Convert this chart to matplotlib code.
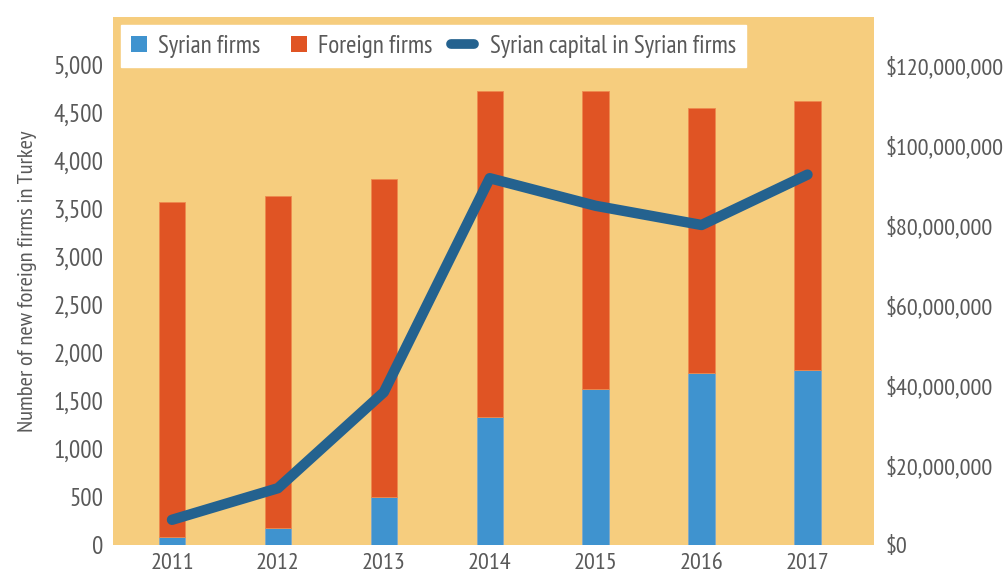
import matplotlib
matplotlib.use("Agg")
import matplotlib.pyplot as plt
from matplotlib.ticker import FuncFormatter
from matplotlib.lines import Line2D
from matplotlib.patches import Patch
from matplotlib.legend_handler import HandlerBase

plt.rcParams['font.family'] = ['PT Sans Narrow', 'DejaVu Sans']

years = ['2011', '2012', '2013', '2014', '2015', '2016', '2017']
syrian_firms = [85, 180, 505, 1337, 1628, 1790, 1820]
total_firms = [3570, 3640, 3810, 4730, 4730, 4555, 4625]
foreign_firms = [t - s for t, s in zip(total_firms, syrian_firms)]
syrian_capital = [6.3e6, 14.2e6, 38.2e6, 91.7e6, 84.8e6, 80.0e6, 92.6e6]

bg = '#F6CD7E'
blue = '#3F93CF'
red = '#E05424'
navy = '#24628F'
grey = '#595959'


class WideLineHandler(HandlerBase):
    # legend line that reaches out to the left of its (square sized) handle box
    def create_artists(self, legend, orig_handle, xdescent, ydescent, width, height, fontsize, trans):
        y = height / 2 - ydescent
        line = Line2D([-8.5 - xdescent, width - 3.5 - xdescent], [y, y], color=orig_handle.get_color(),
                      linewidth=orig_handle.get_linewidth(), solid_capstyle='round', transform=trans)
        return [line]


fig = plt.figure(figsize=(10.05, 5.77), dpi=100)
ax = fig.add_axes([113/1005, 32/577, 761/1005, 528/577])
ax.set_facecolor(bg)

x = range(len(years))
ax.bar(x, syrian_firms, width=0.25, color=blue, edgecolor='#7FA9C8', linewidth=0.6)
ax.bar(x, foreign_firms, width=0.25, bottom=syrian_firms, color=red, edgecolor='#EE8A4E', linewidth=0.6)

ax.set_xlim(-0.557, 6.628)
ax.set_ylim(0, 5500)
ax.set_yticks(range(0, 5001, 500))
ax.yaxis.set_major_formatter(FuncFormatter(lambda v, p: f'{int(v):,}'))
ax.set_xticks(list(x))
ax.set_xticklabels(years)
ax.tick_params(length=0, labelsize=17.5, colors=grey, pad=6)
ax.tick_params(axis='y', labelsize=18, pad=7)
ax.set_ylabel('Number of new foreign firms in Turkey', fontsize=16.2, color=grey, labelpad=12)
for s in ax.spines.values():
    s.set_visible(False)

ax2 = ax.twinx()
ax2.plot(x, syrian_capital, color=navy, linewidth=7.5, solid_capstyle='round', solid_joinstyle='round')
ax2.set_ylim(0, 132e6)
ax2.set_yticks([i * 20e6 for i in range(7)])
ax2.yaxis.set_major_formatter(FuncFormatter(lambda v, p: f'${int(v):,}'))
ax2.tick_params(length=0, labelsize=17.6, colors=grey, pad=8)
for s in ax2.spines.values():
    s.set_visible(False)

line_handle = Line2D([], [], color=navy, linewidth=7)
handles = [Patch(facecolor=blue), Patch(facecolor=red), line_handle]
labels = ['Syrian firms', 'Foreign firms', 'Syrian capital in Syrian firms']
leg = ax2.legend(handles, labels, ncol=3, loc='upper left', bbox_to_anchor=(0.0, 1.0),
                 frameon=True, fancybox=False, fontsize=18, handlelength=0.65, handleheight=0.65,
                 columnspacing=1.2, handletextpad=0.45, borderpad=0.38, borderaxespad=0.33,
                 handler_map={Line2D: WideLineHandler()})
leg.get_frame().set_facecolor('white')
leg.get_frame().set_edgecolor('white')
leg.get_frame().set_alpha(1)
for t in leg.get_texts():
    t.set_color(grey)

fig.savefig('out.png', dpi=100)
